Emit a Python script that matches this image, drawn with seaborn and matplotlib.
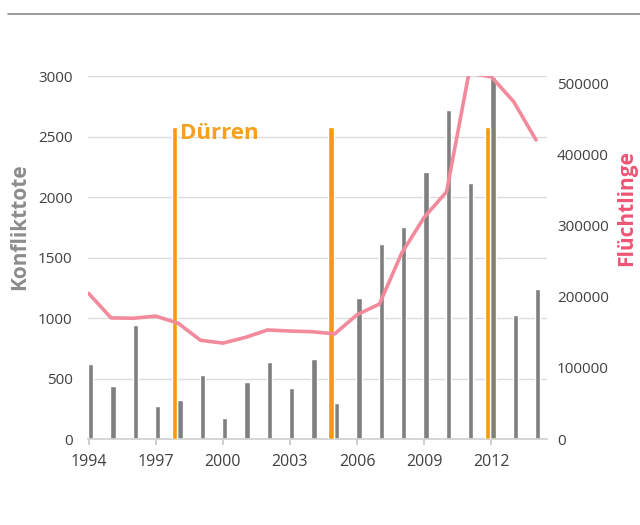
import matplotlib
matplotlib.use("Agg")
import matplotlib.pyplot as plt
from matplotlib.lines import Line2D
import seaborn as sns
import numpy as np
import pandas as pd

# Daten
years = np.arange(1994, 2015)
konflikttote = [620, 440, 945, 270, 325, 530, 175, 470, 635, 420, 660,
                300, 1165, 1612, 1752, 2207, 2719, 2116, 2990, 1025, 1240]
fluechtlinge = [205000, 170500, 170000, 173000, 163000, 139000, 135000,
                143000, 153500, 152000, 151000, 148000, 175000, 190000,
                262000, 312000, 348000, 515000, 510000, 475000, 421000]
duerre_jahre = [1998, 2005, 2012]
duerre_hoehe = [2580, 2580, 2580]
tick_jahre = [1994, 1997, 2000, 2003, 2006, 2009, 2012]

sns.set_theme(style="white")
plt.rcParams['font.family'] = ['Open Sans', 'DejaVu Sans']

fig = plt.figure(figsize=(6.4, 5.25), dpi=100)
ax = fig.add_axes([0.1375, 0.1638, 0.7175, 0.6914])

df = pd.DataFrame({"jahr": years + 0.08, "tote": konflikttote})
sns.barplot(data=df, x="jahr", y="tote", native_scale=True, width=0.24,
            color="#7f7f7f", saturation=1, ax=ax, zorder=2)

# Dürre-Balken (schmal, links neben dem Jahresbalken)
ax.bar(np.array(duerre_jahre) - 0.17, duerre_hoehe, width=0.24,
       color="#F59B0C", zorder=3)
ax.text(1998.1, 2610, "Dürren", color="#F5A01E", fontsize=16,
        fontweight="bold", va="top", ha="left")

ax.set_xlim(1993.97, 2014.5)
ax.set_ylim(0, 3000)
ax.set_yticks(range(0, 3001, 500))
ax.set_xticks(tick_jahre)
ax.set_xticklabels([str(t) for t in tick_jahre])
ax.yaxis.grid(True, color="#dcdcdc", linewidth=1)
ax.set_axisbelow(True)
for s in ["top", "right", "left"]:
    ax.spines[s].set_visible(False)
ax.spines["bottom"].set_color("#d0d0d0")
ax.tick_params(axis="x", bottom=True, length=4, color="#c8c8c8",
               labelsize=11.5, labelcolor="#404040", pad=7)
ax.tick_params(axis="y", left=False, length=0, labelsize=11,
               labelcolor="#404040", pad=11)
ax.set_xlabel("")
ax.set_ylabel("Konflikttote", fontsize=15, fontweight="bold", color="#8c8c8c")
ax.yaxis.set_label_coords(-0.125, 0.585)

ax2 = ax.twinx()
sns.lineplot(x=years, y=fluechtlinge, ax=ax2, color="#F28A9C", linewidth=2.6)
ax2.set_ylim(0, 511000)
ax2.set_yticks(range(0, 500001, 100000))
for s in ["top", "right", "left", "bottom"]:
    ax2.spines[s].set_visible(False)
ax2.tick_params(axis="y", right=False, length=0, labelsize=11,
                labelcolor="#404040", pad=7)
ax2.set_ylabel("Flüchtlinge", fontsize=15, fontweight="bold", color="#EE5575")
ax2.yaxis.set_label_coords(1.15, 0.635)

fig.add_artist(Line2D([8 / 640, 1.0], [1 - 14 / 525, 1 - 14 / 525],
                      color="#8a8a8a", linewidth=1.2))

fig.savefig("out.png", dpi=100)
